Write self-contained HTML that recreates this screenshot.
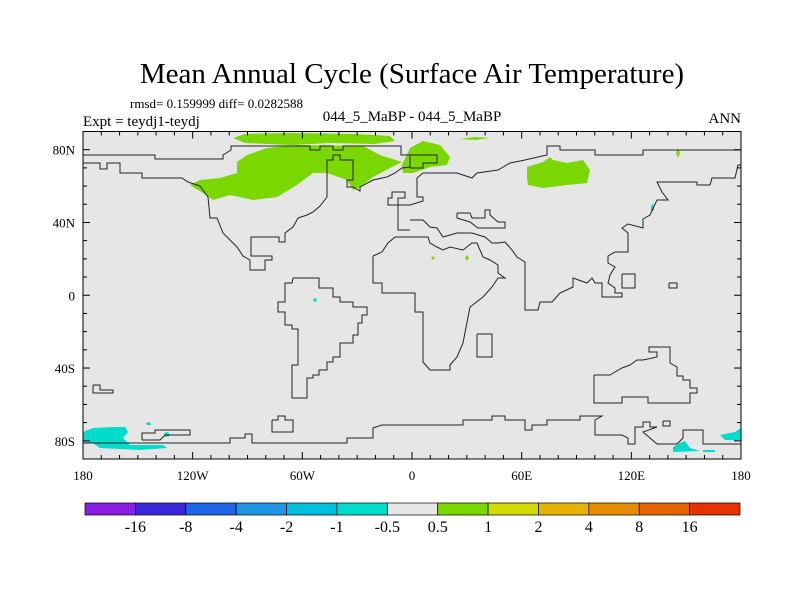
<!DOCTYPE html>
<html><head><meta charset="utf-8"><style>
body{margin:0;background:#fff}
svg text{font-family:"Liberation Serif",serif;fill:#000}
</style></head><body>
<svg width="800" height="600" id="c">
<text x="412" y="83" font-size="29" text-anchor="middle">Mean Annual Cycle (Surface Air Temperature)</text>
<text x="130" y="108" font-size="13">rmsd= 0.159999 diff= 0.0282588</text>
<text x="83" y="126" font-size="15">Expt = teydj1-teydj</text>
<text x="412" y="121" font-size="15" text-anchor="middle">044_5_MaBP - 044_5_MaBP</text>
<text x="741" y="123" font-size="15" text-anchor="end">ANN</text>
<g id="plot"></g>
<g id="cbar"></g>
</svg>
<script>
const latTicks=[80,40,0,-40,-80];
const latLabels=["80N","40N","0","40S","80S"];
const lonTicks=[-180,-120,-60,0,60,120,180];
const lonLabels=["180","120W","60W","0","60E","120E","180"];
const levels=["-16","-8","-4","-2","-1","-0.5","0.5","1","2","4","8","16"];
const colors=["#8a1ee6","#3c28dc","#1e64e6","#1e96e6","#00c0e0","#00dccc","#e6e6e6","#7ad800","#d2dc00","#e6b400","#e68c00","#e66400","#e63200"];
// map geometry traced in plot pixel space (basemap, anomaly contours)
const greenAreas=[
[[233,138],[245,134],[290,133],[355,134],[390,136],[395,141],[375,144],[330,143],[290,145],[245,143]],
[[237,162],[247,155],[267,148],[297,145],[363,146],[380,155],[402,162],[390,168],[373,177],[360,187],[353,190],[347,180],[327,173],[313,173],[297,185],[277,197],[253,200],[230,195],[213,200],[203,193],[190,185],[200,180],[220,178],[237,173]],
[[402,165],[410,148],[423,141],[440,145],[450,157],[447,165],[430,167],[413,173],[403,173]],
[[527,167],[543,162],[550,157],[553,160],[567,163],[583,160],[590,170],[587,183],[567,185],[543,188],[528,185],[527,177]],
[[460,139],[475,137],[490,138],[475,140]],
[[678,148],[680,153],[678,158],[676,153]],
[[431,258],[433,256],[435,258],[433,260]],
[[465,258],[467,255],[469,258],[467,261]]
];
const cyanAreas=[
[[83,432],[93,428],[113,427],[125,427],[128,432],[123,438],[130,445],[163,445],[167,448],[140,450],[100,448],[93,443],[83,442]],
[[146,423],[150,422],[151,425],[147,425]],
[[164,433],[168,432],[170,436],[165,437]],
[[673,447],[680,443],[685,441],[690,448],[700,451],[673,452]],
[[720,435],[735,432],[741,428],[741,440],[725,440]],
[[703,450],[715,450],[715,452],[703,452]],
[[651,207],[653,203],[654,210],[651,211]],
[[313,299],[316,298],[317,301],[314,302]]
];
const coast=[
[[83,155],[155,155],[155,159],[223,159],[223,155],[231,150],[231,146],[310,146],[310,150],[320,150],[320,146],[333,146],[333,150],[343,150],[343,146],[401,146],[401,155],[410,155]],
[[83,163],[100,163],[100,169],[107,169],[107,163],[120,163],[120,173],[142,173],[142,178],[182,178],[188,182],[200,186],[208,197],[210,218],[217,218],[223,233],[230,240],[237,247],[243,256],[250,260],[250,270],[265,270],[265,260],[272,260],[272,256],[251,256],[251,237],[279,237],[279,242],[285,242],[285,233],[293,227],[298,218],[307,215],[313,212],[320,206],[327,197],[327,160],[333,160],[333,155],[340,155],[340,160],[353,160],[353,180],[347,180],[347,187],[353,187],[360,191],[360,187],[373,180],[387,177],[395,173],[402,168],[410,167],[410,155],[437,155],[437,163],[423,163],[423,168],[410,168]],
[[423,173],[417,178],[417,197],[423,197],[423,201],[410,205],[398,205],[398,198],[405,198],[405,192],[392,192],[392,198],[388,198],[388,205],[398,205],[398,230],[410,230]],
[[423,173],[457,173],[472,178],[477,173],[498,170],[510,163],[525,160],[538,157],[547,155],[547,146],[560,146],[560,150],[595,150],[595,155],[643,155],[643,150],[741,150]],
[[410,220],[423,220],[430,227],[437,228],[443,237],[457,233],[472,233],[485,237],[492,243],[498,243],[505,242],[512,250],[517,257],[525,262],[525,310],[538,310],[540,302],[552,302],[560,293],[573,287],[573,278],[587,283],[592,278],[595,283],[602,283],[602,297],[622,297],[622,293],[615,293],[615,288],[608,283],[610,275],[615,267],[608,263],[608,256],[615,252],[628,252],[628,233],[622,228],[628,224],[643,228],[643,219],[650,215],[657,200],[668,200],[662,192],[657,182],[697,182],[697,185],[710,185],[712,178],[735,178],[738,165],[741,165]],
[[373,256],[382,252],[388,243],[395,237],[428,237],[430,243],[437,247],[443,250],[450,247],[463,250],[472,243],[477,243],[483,257],[490,260],[498,265],[498,273],[505,278],[498,278],[492,287],[483,297],[470,307],[463,343],[457,357],[450,365],[450,370],[430,370],[423,362],[423,312],[415,312],[415,293],[382,293],[382,283],[373,283],[373,256]],
[[457,213],[470,213],[472,218],[485,218],[485,210],[490,210],[490,215],[498,222],[505,222],[505,228],[478,228],[470,222],[457,218],[457,213]],
[[622,274],[635,274],[635,288],[622,288],[622,274]],
[[669,283],[677,283],[677,288],[669,288],[669,283]],
[[477,334],[492,334],[492,357],[477,357],[477,334]],
[[594,375],[594,403],[622,403],[622,397],[648,397],[648,403],[690,403],[690,393],[697,393],[697,388],[690,388],[690,380],[683,380],[683,376],[677,376],[677,367],[670,363],[670,347],[649,347],[649,352],[657,352],[657,357],[643,360],[637,360],[630,365],[622,368],[615,372],[610,375],[594,375]],
[[293,278],[319,278],[319,288],[333,288],[333,297],[340,297],[340,302],[353,302],[353,307],[367,307],[367,315],[362,315],[362,323],[358,323],[358,335],[353,335],[353,343],[340,343],[340,357],[333,357],[333,362],[327,362],[327,370],[319,370],[319,375],[313,375],[313,378],[307,378],[307,398],[292,398],[292,365],[298,365],[298,329],[292,329],[292,325],[285,325],[285,312],[278,312],[278,302],[285,302],[285,283],[292,283],[293,278]],
[[83,443],[230,443],[230,438],[245,438],[245,434],[252,434],[252,443],[347,443],[347,438],[373,438],[373,428],[382,425],[463,425],[463,420],[492,420],[492,416],[505,416],[505,420],[525,420],[525,430],[532,430],[532,425],[547,425],[547,420],[580,420],[580,416],[602,416],[595,420],[595,435],[622,435],[628,438],[628,444],[635,444],[635,427],[643,427],[643,422],[650,422],[650,427],[657,427],[643,432],[650,438],[657,444],[677,444],[683,438],[683,430],[703,430],[703,444],[741,444]],
[[663,421],[670,421],[670,426],[663,426],[663,421]],
[[142,440],[142,433],[155,433],[155,430],[190,430],[190,435],[165,435],[160,440],[142,440]],
[[272,420],[278,420],[278,416],[285,416],[285,420],[293,420],[293,432],[272,432],[272,420]],
[[93,385],[100,385],[100,390],[113,390],[113,393],[93,393],[93,385]]
];
const L=83,R=741,T=131.5,B=459;
const xs=lon=>L+(lon+180)/360*(R-L);
const ys=lat=>T+(90-lat)/180*(B-T);
const NS="http://www.w3.org/2000/svg";
function mk(t,a,p){const e=document.createElementNS(NS,t);for(const k in a)e.setAttribute(k,a[k]);p.appendChild(e);return e;}
const g=document.getElementById('plot');
const bg=mk('rect',{x:L,y:T,width:R-L,height:B-T,fill:'#e6e6e6'},g);


const pts=a=>a.map(p=>p[0]+','+p[1]).join(' ');
greenAreas.forEach(a=>{const e=mk('polygon',{points:pts(a),fill:'#7ad800'},g);

});
cyanAreas.forEach(a=>{const e=mk('polygon',{points:pts(a),fill:'#00dccc'},g);

});
coast.forEach(a=>{const e=mk('polyline',{points:pts(a),fill:'none',stroke:'#222','stroke-width':1},g);

});
const fr=mk('rect',{x:L,y:T,width:R-L,height:B-T,fill:'none',stroke:'#000','stroke-width':1},g);


for(let lon=-180;lon<=180;lon+=10){const x=xs(lon),len=lon%60==0?7:4;
mk('line',{x1:x,x2:x,y1:B,y2:B-len,stroke:'#000'},g);mk('line',{x1:x,x2:x,y1:T,y2:T+len,stroke:'#000'},g);}
for(let lat=-90;lat<=90;lat+=10){const y=ys(lat),len=lat%40==0?7:4;
mk('line',{x1:L,x2:L+len,y1:y,y2:y,stroke:'#000'},g);mk('line',{x1:R,x2:R-len,y1:y,y2:y,stroke:'#000'},g);}
latTicks.forEach((v,i)=>{const t=mk('text',{x:L-8,y:ys(v)+5,'font-size':13,'text-anchor':'end'},g);t.textContent=latLabels[i];

});
lonTicks.forEach((v,i)=>{const t=mk('text',{x:xs(v),y:B+21,'font-size':13,'text-anchor':'middle'},g);t.textContent=lonLabels[i];

});
const cb=document.getElementById('cbar');
const cx0=85,cx1=740,cy=503,ch=12,w=(cx1-cx0)/colors.length;
colors.forEach((c,i)=>{const r=mk('rect',{x:cx0+i*w,y:cy,width:w,height:ch,fill:c,stroke:'#000','stroke-width':0.7},cb);

});
levels.forEach((l,i)=>{const t=mk('text',{x:cx0+(i+1)*w,y:cy+ch+17,'font-size':16,'text-anchor':'middle'},cb);t.textContent=l;

});
</script>
</body></html>
